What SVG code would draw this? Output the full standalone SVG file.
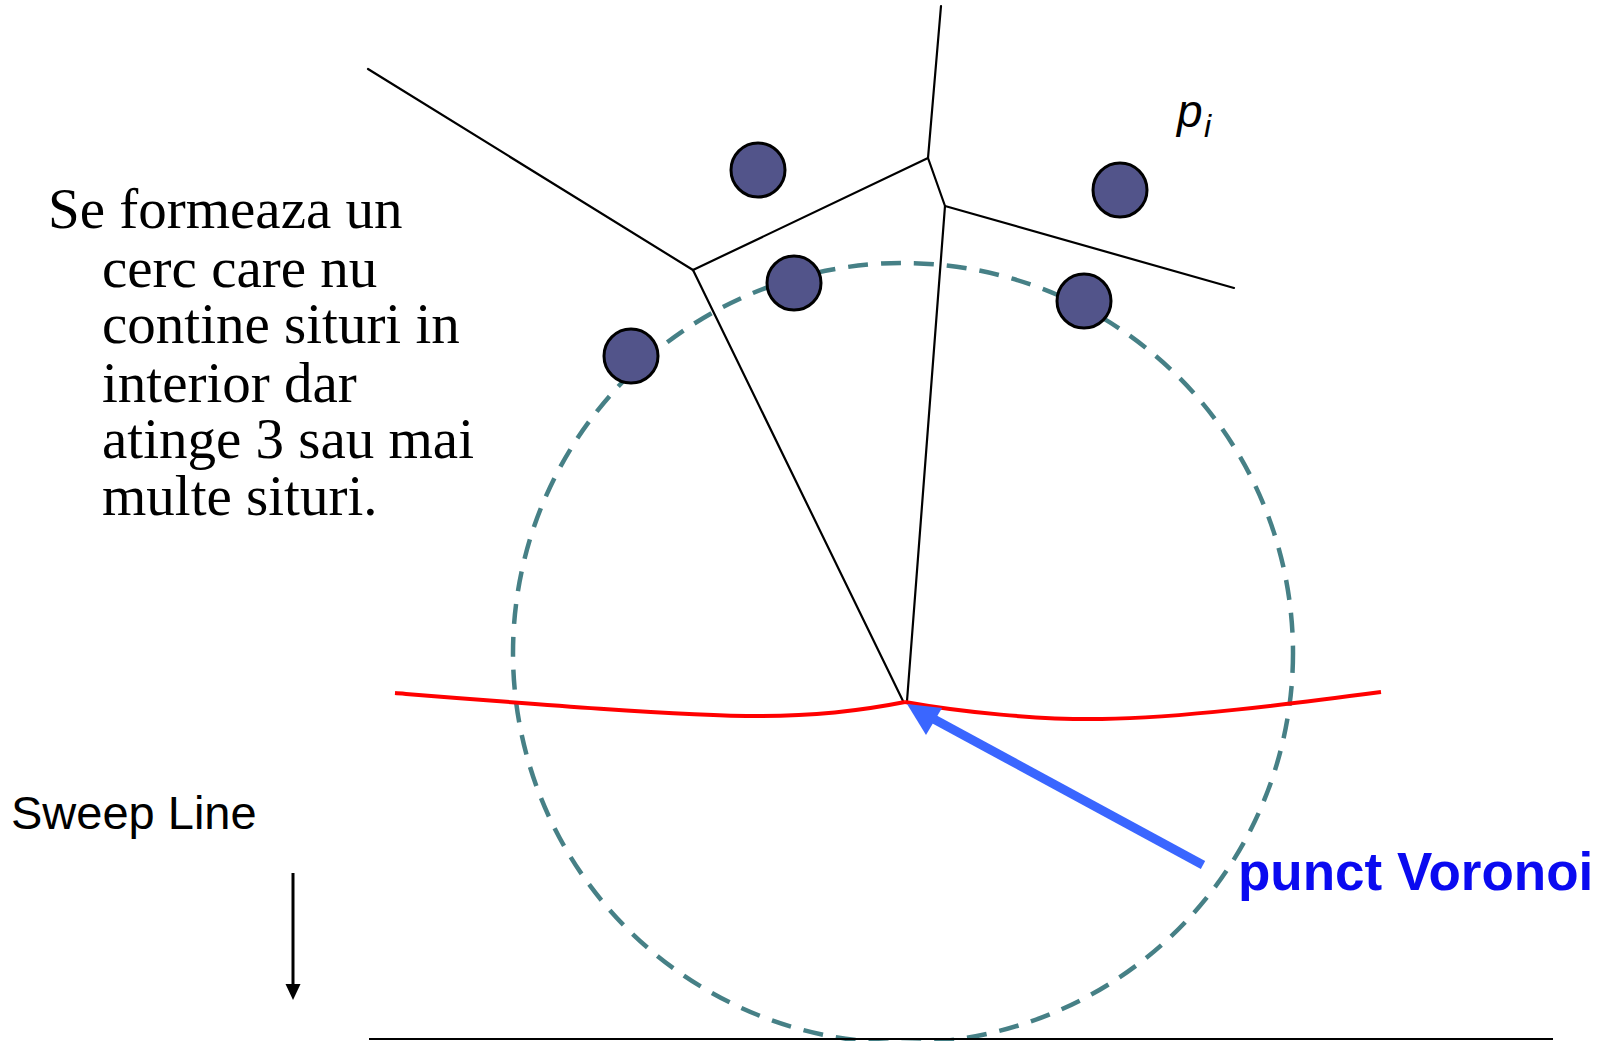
<svg xmlns="http://www.w3.org/2000/svg" width="1600" height="1041" viewBox="0 0 1600 1041">
<style>
.vor{stroke:#000;stroke-width:2.2;fill:none;stroke-linecap:round}
.site{fill:#52548A;stroke:#000;stroke-width:3}
.beach{stroke:#FF0000;stroke-width:4;fill:none}
.body{font-family:"Liberation Serif","DejaVu Serif",serif;font-size:57px;fill:#000}
.sans{font-family:"Liberation Sans",Arial,sans-serif;fill:#000}
</style>
<rect width="1600" height="1041" fill="#fff"/>
<g id="connectors">
<line class="vor" x1="368" y1="69" x2="693" y2="270"/>
<line class="vor" x1="693" y1="270" x2="928" y2="158"/>
<line class="vor" x1="928" y1="158" x2="941" y2="6"/>
<line class="vor" x1="928" y1="158" x2="945" y2="206"/>
<line class="vor" x1="945" y1="206" x2="1234" y2="288"/>
<line class="vor" x1="693" y1="270" x2="903" y2="701"/>
<line class="vor" x1="945" y1="206" x2="907" y2="701"/>
</g>
<g id="empty-circle">
<circle cx="903" cy="653" r="390" fill="none" stroke="#468086" stroke-width="4.5" stroke-dasharray="20 13"/>
</g>
<g id="sites">
<circle id="site1" class="site" cx="758" cy="170" r="27"/>
<circle id="site2" class="site" cx="1120" cy="190" r="27"/>
<circle id="site3" class="site" cx="794" cy="283" r="27"/>
<circle id="site4" class="site" cx="631" cy="356" r="27"/>
<circle id="site5" class="site" cx="1084" cy="301" r="27"/>
</g>
<g id="beachline">
<path class="beach" d="M395,693 C520,703 680,716 760,716 C820,716 870,709 905,702"/>
<path class="beach" d="M905,702 C960,712 1040,720 1102,719 C1180,718 1290,704 1381,692"/>
</g>
<g id="voronoi-arrow">
<line x1="1203" y1="865" x2="930" y2="717" stroke="#3A66FF" stroke-width="9"/>
<polygon points="907,704 942,708 926,735" fill="#3A66FF"/>
</g>
<g id="label-voronoi">
<text x="1238" y="890" font-family="Liberation Sans, Arial, sans-serif" font-weight="bold" font-size="53" fill="#0A0AF0">punct Voronoi</text>
</g>
<g id="label-pi">
<text class="sans" x="1177" y="127" font-size="46" font-style="italic">p</text>
<text class="sans" x="1204" y="137" font-size="32" font-style="italic">i</text>
</g>
<g id="description">
<text class="body" x="48" y="228">Se formeaza un</text>
<text class="body" x="102" y="287">cerc care nu</text>
<text class="body" x="102" y="343">contine situri in</text>
<text class="body" x="102" y="402">interior dar</text>
<text class="body" x="102" y="458">atinge 3 sau mai</text>
<text class="body" x="102" y="515">multe situri.</text>
</g>
<g id="sweep-label">
<text class="sans" x="11" y="829" font-size="47">Sweep Line</text>
<line x1="293" y1="873" x2="293" y2="986" stroke="#000" stroke-width="3"/>
<polygon points="285.5,984 300.5,984 293,1000" fill="#000"/>
</g>
<g id="sweep-line">
<line x1="369" y1="1039" x2="1553" y2="1039" stroke="#000" stroke-width="2"/>
</g>
</svg>
